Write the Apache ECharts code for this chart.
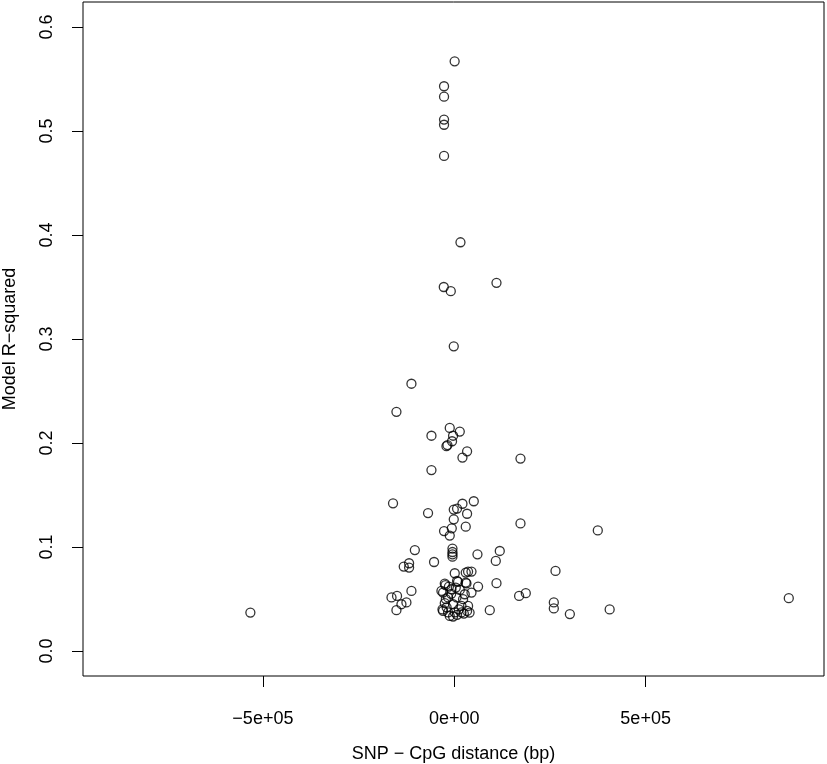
<!DOCTYPE html>
<html>
<head>
<meta charset="utf-8">
<script src="https://cdn.jsdelivr.net/npm/echarts@6/dist/echarts.min.js"></script>
<style>
html,body{margin:0;padding:0;background:#fff;}
#chart{width:827px;height:764px;}
</style>
</head>
<body>
<div id="chart"></div>
<script>
// SNP - CpG distance (bp)
var distance = [
  1000, -26700, -26700, -26700, -26700, -26700, 16200, -27400, -9100, 110300,
  -1300, -111900, -151100, -11800, 14400, -59600, -3100, -5800, -20400, -17800,
  33500, 21400, -59600, 173000, -160000, -68500, 51000, 21400, 7300, -1300,
  33500, 173000, -1300, 30000, -26700, -6500, -11800, -103000, -4700, -4700,
  -4700, -4700, 60600, 118900, 108500, -52800, -132000, -118000, -118000, 1300,
  30000, 36100, 45000, 7300, 30000, 110300, 264500, -24800, -23000, -111900,
  62200, -33500, -164000, -149500, -125000, -138000, -151100, 169400, 186900, 260100,
  260100, 92800, 375000, 302000, 406000, 874000, -532700, 9900, 31900, -29300,
  -7300, 14400, 27400, 45000, -16200, 5800, 23000, -24800, -3100, 18800,
  36100, -29300, -16200, 1300, 18800, -11800, -3100, -30800, 33500, 7300,
  -20000, 12000, -8000, 25000, -22000, 4000, 40000, -14000
];
// Model R-squared
var rsquared = [
  0.567, 0.543, 0.533, 0.511, 0.506, 0.476, 0.393, 0.350, 0.346, 0.354,
  0.293, 0.257, 0.230, 0.2145, 0.211, 0.207, 0.207, 0.2017, 0.197, 0.198,
  0.192, 0.186, 0.174, 0.185, 0.142, 0.1326, 0.144, 0.1416, 0.137, 0.136,
  0.132, 0.1227, 0.1266, 0.1196, 0.1153, 0.118, 0.111, 0.0971, 0.0985, 0.0952,
  0.093, 0.0907, 0.093, 0.0962, 0.0866, 0.0856, 0.0812, 0.0844, 0.0802, 0.0748,
  0.0754, 0.0764, 0.0764, 0.0674, 0.0658, 0.0652, 0.077, 0.0649, 0.0633, 0.0578,
  0.062, 0.0578, 0.0515, 0.053, 0.0467, 0.045, 0.0393, 0.053, 0.0556, 0.0467,
  0.041, 0.0393, 0.116, 0.0355, 0.040, 0.0508, 0.037, 0.0665, 0.065, 0.0562,
  0.0594, 0.0588, 0.0546, 0.0562, 0.0515, 0.0515, 0.0499, 0.046, 0.045, 0.0434,
  0.0434, 0.0386, 0.0371, 0.0371, 0.0371, 0.0338, 0.0332, 0.040, 0.0386, 0.0348,
  0.042, 0.040, 0.055, 0.036, 0.050, 0.061, 0.037, 0.062
];
var xTickValues = [-500000, 0, 500000];
var xTickLabels = ['\u22125e+05', '0e+00', '5e+05'];
var yTickValues = [0, 0.1, 0.2, 0.3, 0.4, 0.5, 0.6];
var yTickLabels = ['0.0', '0.1', '0.2', '0.3', '0.4', '0.5', '0.6'];

var points = distance.map(function (d, i) { return [d, rsquared[i]]; });
var FONT = '"Liberation Sans", Arial, Helvetica, sans-serif';

var chart = echarts.init(document.getElementById('chart'), null, {renderer: 'canvas'});
chart.setOption({
  animation: false,
  backgroundColor: '#ffffff',
  grid: {left: 83, right: 3, top: 2, bottom: 88, containLabel: false, outerBoundsMode: 'none',
         show: true, borderColor: '#000', borderWidth: 1, backgroundColor: 'transparent'},
  xAxis: {
    type: 'value', min: -970000, max: 966000,
    name: 'SNP \u2212 CpG distance (bp)', nameLocation: 'middle', nameGap: 69,
    nameTextStyle: {fontFamily: FONT, fontSize: 18, color: '#000'},
    axisLine: {show: false, onZero: false},
    splitLine: {show: false},
    axisTick: {show: true, length: 11, customValues: xTickValues, lineStyle: {color: '#000', width: 1}},
    axisLabel: {
      show: true, customValues: xTickValues, margin: 34,
      fontFamily: FONT, fontSize: 18, color: '#000',
      formatter: function (v) { var i = xTickValues.indexOf(v); return i >= 0 ? xTickLabels[i] : ''; }
    }
  },
  yAxis: {
    type: 'value', min: -0.024, max: 0.624,
    name: 'Model R\u2212squared', nameLocation: 'middle', nameGap: 64, nameRotate: 90,
    nameTextStyle: {fontFamily: FONT, fontSize: 18, color: '#000'},
    axisLine: {show: false, onZero: false},
    splitLine: {show: false},
    axisTick: {show: true, length: 11, customValues: yTickValues, lineStyle: {color: '#000', width: 1}},
    axisLabel: {
      show: true, customValues: yTickValues, margin: 27, rotate: 90,
      fontFamily: FONT, fontSize: 18, color: '#000',
      formatter: function (v) {
        for (var i = 0; i < yTickValues.length; i++) { if (Math.abs(yTickValues[i] - v) < 1e-9) return yTickLabels[i]; }
        return '';
      }
    }
  },
  series: [{
    type: 'scatter',
    data: points,
    symbol: 'circle',
    symbolSize: 9,
    itemStyle: {color: 'rgba(0,0,0,0)', borderColor: '#000', borderWidth: 1.3},
    emphasis: {disabled: true},
    silent: true
  }]
});
</script>
</body>
</html>
